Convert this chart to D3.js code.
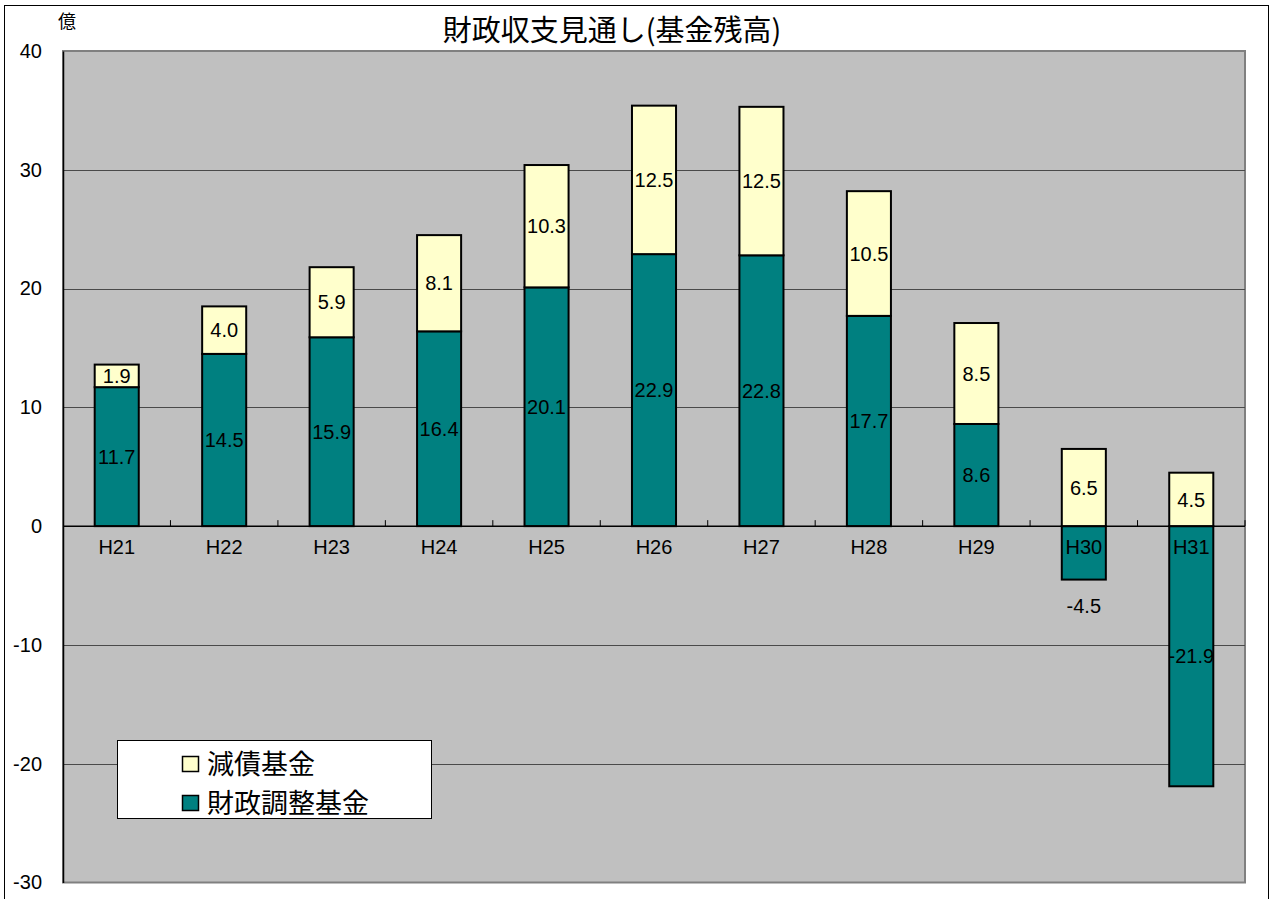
<!DOCTYPE html>
<html>
<head>
<meta charset="utf-8">
<script src="https://cdn.jsdelivr.net/npm/d3@7"></script>
<style>
  html, body { margin: 0; padding: 0; background: #fff; }
  svg { display: block; }
</style>
</head>
<body>
<svg id="chart" width="1271" height="899"></svg>
<script>
const categories = ["H21", "H22", "H23", "H24", "H25", "H26", "H27", "H28", "H29", "H30", "H31"];
const adjustmentFund = [11.7, 14.5, 15.9, 16.4, 20.1, 22.9, 22.8, 17.7, 8.6, -4.5, -21.9];
const debtReductionFund = [1.9, 4.0, 5.9, 8.1, 10.3, 12.5, 12.5, 10.5, 8.5, 6.5, 4.5];
const seriesNames = ["財政調整基金", "減債基金"];
const yTicks = [-30, -20, -10, 0, 10, 20, 30, 40];
const titleText = "財政収支見通し(基金残高)";
const unitText = "億";

const colors = { "財政調整基金": "#008080", "減債基金": "#FFFFCC" };
const numFont = "'Liberation Sans Narrow', 'Arial Narrow', 'Liberation Sans', Arial, sans-serif";
const cjkFont = "'Noto Sans CJK JP', 'Noto Sans', sans-serif";

const svg = d3.select("#chart");
const plot = { left: 63, right: 1245, top: 51, bottom: 882.5 };

// outer border
svg.append("rect").attr("x", 4.5).attr("y", 5.5).attr("width", 1264).attr("height", 900)
  .attr("fill", "#fff").attr("stroke", "#000").attr("stroke-width", 1);

const x = d3.scaleBand().domain(categories).range([plot.left, plot.right]).padding(0);
const y = d3.scaleLinear().domain([-30, 40]).range([plot.bottom, plot.top]);

// plot area
svg.append("rect").attr("x", plot.left).attr("y", plot.top)
  .attr("width", plot.right - plot.left).attr("height", plot.bottom - plot.top)
  .attr("fill", "#C0C0C0").attr("stroke", "#808080").attr("stroke-width", 2);

// gridlines
svg.append("g").selectAll("line").data(yTicks.filter(t => t !== 0 && t !== 40 && t !== -30)).join("line")
  .attr("x1", plot.left).attr("x2", plot.right)
  .attr("y1", d => Math.round(y(d)) + 0.5).attr("y2", d => Math.round(y(d)) + 0.5)
  .attr("stroke", "#4a4a4a").attr("stroke-width", 1);

// y axis
const yAxis = d3.axisLeft(y).tickValues(yTicks).tickSize(0).tickPadding(0)
  .tickFormat(d => d < 0 ? "-" + Math.abs(d) : String(d));
const gy = svg.append("g").attr("transform", `translate(${plot.left},0)`).call(yAxis);
gy.select(".domain").attr("stroke", "#000").attr("stroke-width", 1.5);
gy.selectAll("text").attr("x", -21).attr("font-family", numFont).attr("font-size", 20).attr("fill", "#000");

// stacked data
const table = categories.map((c, i) => ({ cat: c, "財政調整基金": adjustmentFund[i], "減債基金": debtReductionFund[i] }));
const stack = d3.stack().keys(seriesNames).offset(d3.stackOffsetDiverging);
const stacked = stack(table);

const barW = x.bandwidth() * 0.41;
const bx = d => x(d.data.cat) + (x.bandwidth() - barW) / 2;

const gBars = svg.append("g");
stacked.forEach(s => {
  gBars.selectAll(null).data(s).join("rect")
    .attr("x", bx)
    .attr("y", d => y(Math.max(d[0], d[1])))
    .attr("width", barW)
    .attr("height", d => Math.abs(y(d[0]) - y(d[1])))
    .attr("fill", colors[s.key])
    .attr("stroke", "#000").attr("stroke-width", 2);
});

// zero axis line + ticks
svg.append("line").attr("x1", plot.left).attr("x2", plot.right)
  .attr("y1", y(0)).attr("y2", y(0)).attr("stroke", "#000").attr("stroke-width", 1.5);
const boundaries = categories.slice(1).map(c => x(c)).concat([plot.right]);
svg.append("g").selectAll("line").data(boundaries).join("line")
  .attr("x1", d => d).attr("x2", d => d)
  .attr("y1", y(0)).attr("y2", y(0) - 6)
  .attr("stroke", "#000").attr("stroke-width", 1);

// category labels
const xAxis = d3.axisBottom(x).tickSize(0).tickPadding(0);
const gx = svg.append("g").attr("transform", `translate(0,${y(0)})`).call(xAxis);
gx.select(".domain").remove();
gx.selectAll("text").attr("y", 28).attr("dy", 0).attr("font-family", numFont).attr("font-size", 20).attr("fill", "#000");

// value labels
const gLab = svg.append("g").attr("font-family", numFont).attr("font-size", 20).attr("fill", "#000").attr("text-anchor", "middle");
stacked.forEach(s => {
  s.forEach(d => {
    const v = d.data[s.key];
    const top = y(Math.max(d[0], d[1])), bot = y(Math.min(d[0], d[1]));
    let cy = (top + bot) / 2;
    if (v < 0 && bot - top < 70) cy = bot + 26;
    gLab.append("text")
      .attr("x", x(d.data.cat) + x.bandwidth() / 2)
      .attr("y", cy).attr("dy", "0.36em")
      .text(v < 0 ? "-" + Math.abs(v).toFixed(1) : v.toFixed(1));
  });
});

// title & unit
svg.append("text").attr("x", 612).attr("y", 41).attr("text-anchor", "middle")
  .attr("font-family", cjkFont).attr("font-size", 29).attr("fill", "#000").text(titleText);
svg.append("text").attr("x", 67).attr("y", 28).attr("text-anchor", "middle")
  .attr("font-family", cjkFont).attr("font-size", 18).attr("fill", "#000").text(unitText);

// legend
const lg = svg.append("g");
lg.append("rect").attr("x", 117.5).attr("y", 740.5).attr("width", 314).attr("height", 78)
  .attr("fill", "#fff").attr("stroke", "#000").attr("stroke-width", 1);
const legendItems = ["減債基金", "財政調整基金"];
legendItems.forEach((name, i) => {
  const cy = 764 + i * 39;
  lg.append("rect").attr("x", 182.5).attr("y", cy - 7.5).attr("width", 16).attr("height", 15)
    .attr("fill", colors[name]).attr("stroke", "#000").attr("stroke-width", 1.5);
  lg.append("text").attr("x", 207).attr("y", cy).attr("dy", "0.36em")
    .attr("font-family", cjkFont).attr("font-size", 27).attr("fill", "#000").text(name);
});
</script>
</body>
</html>
